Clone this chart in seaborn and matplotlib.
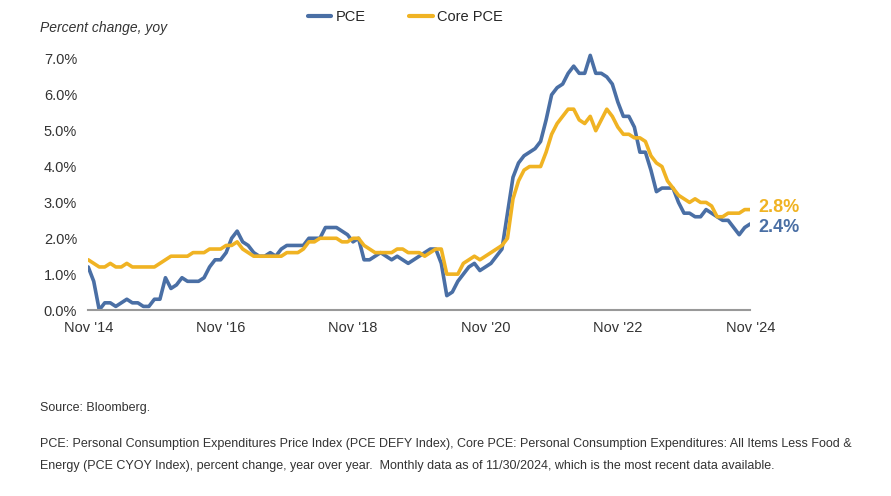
import numpy as np
import pandas as pd
import seaborn as sns
import matplotlib.pyplot as plt
from matplotlib.lines import Line2D

pce = [1.2, 0.8,
       0.0, 0.2, 0.2, 0.1, 0.2, 0.3, 0.2, 0.2, 0.1, 0.1, 0.3, 0.3,
       0.9, 0.6, 0.7, 0.9, 0.8, 0.8, 0.8, 0.9, 1.2, 1.4, 1.4, 1.6,
       2.0, 2.2, 1.9, 1.8, 1.6, 1.5, 1.5, 1.6, 1.5, 1.7, 1.8, 1.8,
       1.8, 1.8, 2.0, 2.0, 2.0, 2.3, 2.3, 2.3, 2.2, 2.1, 1.9, 2.0,
       1.4, 1.4, 1.5, 1.6, 1.5, 1.4, 1.5, 1.4, 1.3, 1.4, 1.5, 1.6,
       1.7, 1.7, 1.3, 0.4, 0.5, 0.8, 1.0, 1.2, 1.3, 1.1, 1.2, 1.3,
       1.5, 1.7, 2.7, 3.7, 4.1, 4.3, 4.4, 4.5, 4.7, 5.3, 6.0, 6.2,
       6.3, 6.6, 6.8, 6.6, 6.6, 7.1, 6.6, 6.6, 6.5, 6.3, 5.8, 5.4,
       5.4, 5.1, 4.4, 4.4, 3.9, 3.3, 3.4, 3.4, 3.4, 3.0, 2.7, 2.7,
       2.6, 2.6, 2.8, 2.7, 2.6, 2.5, 2.5, 2.3, 2.1, 2.3, 2.4]
core = [1.4, 1.3,
        1.2, 1.2, 1.3, 1.2, 1.2, 1.3, 1.2, 1.2, 1.2, 1.2, 1.2, 1.3,
        1.4, 1.5, 1.5, 1.5, 1.5, 1.6, 1.6, 1.6, 1.7, 1.7, 1.7, 1.8,
        1.8, 1.9, 1.7, 1.6, 1.5, 1.5, 1.5, 1.5, 1.5, 1.5, 1.6, 1.6,
        1.6, 1.7, 1.9, 1.9, 2.0, 2.0, 2.0, 2.0, 1.9, 1.9, 2.0, 2.0,
        1.8, 1.7, 1.6, 1.6, 1.6, 1.6, 1.7, 1.7, 1.6, 1.6, 1.6, 1.5,
        1.6, 1.7, 1.7, 1.0, 1.0, 1.0, 1.3, 1.4, 1.5, 1.4, 1.5, 1.6,
        1.7, 1.8, 2.0, 3.1, 3.6, 3.9, 4.0, 4.0, 4.0, 4.4, 4.9, 5.2,
        5.4, 5.6, 5.6, 5.3, 5.2, 5.4, 5.0, 5.3, 5.6, 5.4, 5.1, 4.9,
        4.9, 4.8, 4.8, 4.7, 4.3, 4.1, 4.0, 3.6, 3.4, 3.2, 3.1, 3.0,
        3.1, 3.0, 3.0, 2.9, 2.6, 2.6, 2.7, 2.7, 2.7, 2.8, 2.8]
tick_labels = ["Nov '14", "Nov '16", "Nov '18", "Nov '20", "Nov '22", "Nov '24"]
yticks = [0, 1, 2, 3, 4, 5, 6, 7]

BLUE = "#4a6fa5"
GOLD = "#f0b323"

months = np.arange(len(pce))
df = pd.DataFrame({"month": np.concatenate([months, months]),
                   "value": pce + core,
                   "series": ["PCE"] * len(pce) + ["Core PCE"] * len(core)})

sns.set_style("white")
plt.rcParams['font.family'] = ['Liberation Sans', 'DejaVu Sans']
fig = plt.figure(figsize=(8.91, 4.96), dpi=100)
ax = fig.add_axes([0.099, 0.375, 0.743, 0.53])
sns.lineplot(data=df, x="month", y="value", hue="series",
             palette={"PCE": BLUE, "Core PCE": GOLD}, linewidth=2.6, ax=ax, legend=False)
ax.set_xlim(0, 120)
ax.set_ylim(0, 7.33)
ax.set_xticks(np.arange(0, 121, 24))
ax.set_xticklabels(tick_labels, fontsize=10.5, color="#333333")
ax.set_yticks(yticks)
ax.set_yticklabels([f"{v:.1f}%" for v in yticks], fontsize=10.5, color="#333333")
ax.set_xlabel("")
ax.set_ylabel("")
for s in ["top", "right", "left"]:
    ax.spines[s].set_visible(False)
ax.spines["bottom"].set_color("#999999")
ax.spines["bottom"].set_linewidth(1.5)
ax.tick_params(length=0, pad=8)

ax.text(121.5, core[-1] + 0.05, "2.8%", color=GOLD, fontsize=13, fontweight="bold", va="center")
ax.text(121.5, pce[-1] - 0.1, "2.4%", color=BLUE, fontsize=13, fontweight="bold", va="center")

fig.text(40/891, 1 - 28/496, "Percent change, yoy", fontsize=10, style="italic", color="#333333", va="center")
handles = [Line2D([], [], color=BLUE, lw=3), Line2D([], [], color=GOLD, lw=3)]
fig.legend(handles, ["PCE", "Core PCE"], loc="center", bbox_to_anchor=(0.455, 1 - 17/496),
           ncol=2, frameon=False, fontsize=10.5, handlelength=1.6, columnspacing=3.0, handletextpad=0.3)

fig.text(40/891, 1 - 408/496, "Source: Bloomberg.", fontsize=9, color="#333333", va="center")
fig.text(40/891, 1 - 444/496, "PCE: Personal Consumption Expenditures Price Index (PCE DEFY Index), Core PCE: Personal Consumption Expenditures: All Items Less Food &",
         fontsize=9, color="#333333", va="center")
fig.text(40/891, 1 - 466/496, "Energy (PCE CYOY Index), percent change, year over year.  Monthly data as of 11/30/2024, which is the most recent data available.",
         fontsize=9, color="#333333", va="center")
fig.savefig("out.png", dpi=100)
